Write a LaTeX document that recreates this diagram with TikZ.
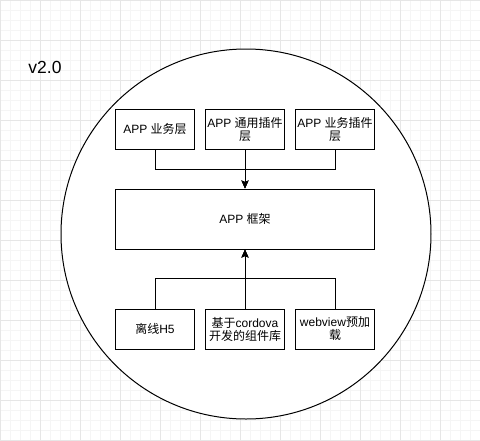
\documentclass[tikz,border=0pt]{standalone}
\usepackage{fontspec}
\setmainfont{Liberation Sans}
\newfontfamily\cjk{Noto Sans CJK SC}
\usetikzlibrary{arrows.meta}
\definecolor{gridminor}{HTML}{F5F5F5}
\definecolor{gridmajor}{HTML}{E6E6E6}
\tikzset{
  box/.style={draw=black, line width=1pt, minimum width=79pt, minimum height=40pt, inner sep=1pt, align=center, font=\fontsize{12}{14}\selectfont},
  bigbox/.style={draw=black, line width=1pt, minimum width=259pt, minimum height=60pt, inner sep=1pt, align=center, font=\fontsize{12}{14}\selectfont},
  conn/.style={draw=black, line width=1pt, -{Stealth[length=8pt,width=7pt,inset=1.5pt]}},
}
\begin{document}
\begin{tikzpicture}[x=1pt,y=-1pt]
\useasboundingbox (0,0) rectangle (480,440);
\fill[white] (0,0) rectangle (480,440);
\foreach \i in {0,10,...,480} {\draw[gridminor, line width=1pt] (\i,0) -- (\i,440);}
\foreach \j in {0,10,...,440} {\draw[gridminor, line width=1pt] (0,\j) -- (480,\j);}
\foreach \i in {0,40,...,480} {\draw[gridmajor, line width=1pt] (\i,0) -- (\i,440);}
\foreach \j in {0,40,...,440} {\draw[gridmajor, line width=1pt] (0,\j) -- (480,\j);}

\node[font=\fontsize{17.5}{19}\selectfont] (title) at (45,67) {v2.0};

\draw[black, line width=1pt, fill=white] (246,234) circle[radius=185];
\node[coordinate] (circ) at (246,234) {};

\node[box] (b1) at (155,129) {APP {\cjk 业务层}};
\node[box] (b2) at (245,129) {APP {\cjk 通用插件}\\[-1pt]{\cjk 层}};
\node[box] (b3) at (335,129) {APP {\cjk 业务插件}\\[-1pt]{\cjk 层}};

\node[bigbox] (frame) at (245,219) {APP {\cjk 框架}};

\node[box] (c1) at (155,329) {{\cjk 离线}H5};
\node[box] (c2) at (245,329) {{\cjk 基于}cordova\\[-1pt]{\cjk 开发的组件库}};
\node[box] (c3) at (335,329) {webview{\cjk 预加}\\[-1pt]{\cjk 载}};

\draw[conn] (b1.south) -- ++(0,20) -| (frame.north);
\draw[conn] (b3.south) -- ++(0,20) -| (frame.north);
\draw[conn] (b2.south) -- (frame.north);

\draw[conn] (c1.north) -- ++(0,-30) -| (frame.south);
\draw[conn] (c3.north) -- ++(0,-30) -| (frame.south);
\draw[conn] (c2.north) -- (frame.south);
\end{tikzpicture}
\end{document}
